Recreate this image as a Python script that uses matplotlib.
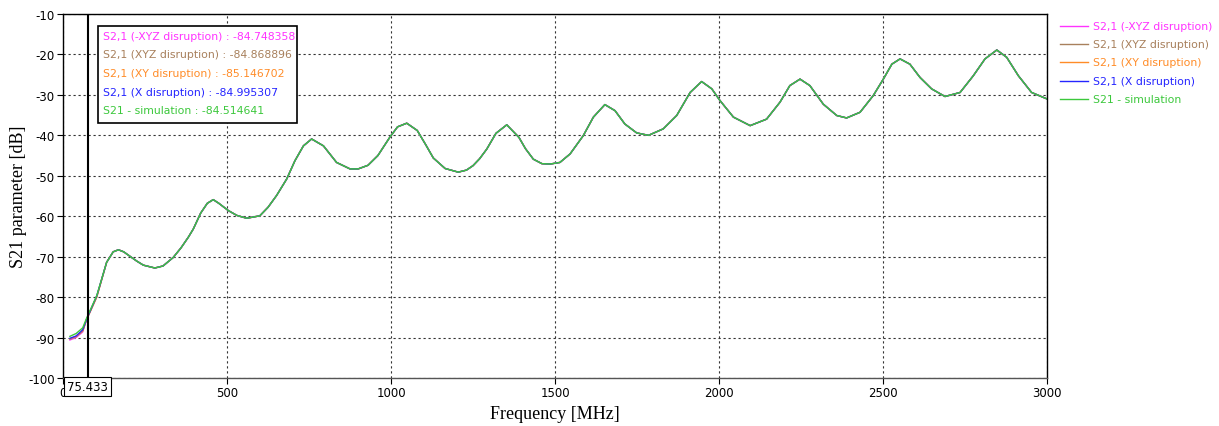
import matplotlib
matplotlib.use("Agg")
import matplotlib.pyplot as plt
from matplotlib.patches import Rectangle
from matplotlib.lines import Line2D

plt.rcParams["axes.unicode_minus"] = False

# frequency points [MHz]
freq = [21, 40, 60, 72, 103, 133, 153, 169, 185, 204, 225, 245, 280, 305, 336, 360,
        382, 397, 420, 440, 458, 475, 504, 530, 560, 600, 625, 651, 682, 707, 733,
        758, 794, 834, 875, 900, 930, 960, 997, 1020, 1048, 1080, 1105, 1129, 1165,
        1205, 1230, 1250, 1270, 1292, 1320, 1353, 1390, 1410, 1434, 1460, 1485, 1515,
        1546, 1586, 1617, 1652, 1683, 1713, 1749, 1785, 1830, 1871, 1912, 1947, 1978,
        2003, 2044, 2095, 2145, 2186, 2216, 2247, 2277, 2318, 2359, 2389, 2430, 2470,
        2501, 2527, 2552, 2582, 2613, 2648, 2689, 2735, 2775, 2811, 2847, 2877, 2913,
        2953, 3000]

# S21 simulation [dB]
s21_sim = [-89.7, -89.0, -87.6, -85.2, -79.6, -71.4, -68.8, -68.3, -68.8, -69.9,
           -71.1, -72.1, -72.8, -72.3, -70.2, -67.8, -65.2, -63.2, -59.2, -56.8,
           -55.9, -56.8, -58.6, -59.8, -60.5, -59.9, -57.8, -54.9, -50.8, -46.3,
           -42.6, -40.9, -42.6, -46.7, -48.3, -48.3, -47.4, -45.0, -40.4, -37.9,
           -37.0, -38.8, -42.2, -45.6, -48.2, -49.1, -48.6, -47.5, -45.8, -43.4,
           -39.5, -37.4, -40.5, -43.3, -45.9, -47.0, -47.1, -46.7, -44.6, -40.1,
           -35.5, -32.4, -33.9, -37.2, -39.4, -40.0, -38.4, -35.1, -29.4, -26.7,
           -28.5, -31.4, -35.5, -37.6, -36.0, -31.8, -27.7, -26.1, -27.7, -32.3,
           -35.1, -35.7, -34.3, -30.2, -26.1, -22.4, -21.1, -22.4, -25.7, -28.5,
           -30.4, -29.4, -25.3, -21.1, -18.9, -20.7, -25.3, -29.4, -31.0]

# measured curves only differ from the simulation in the first few points
head_xyz_neg = [-90.6, -90.0, -88.6, -85.4, -79.8]
head_xyz = [-90.4, -89.8, -88.4, -85.5, -79.9]
head_xy = [-90.3, -89.7, -88.3, -85.6, -80.0]
head_x = [-90.2, -89.6, -88.1, -85.5, -79.7]
n_head = len(head_x)

series = [
    ("S2,1 (-XYZ disruption)", head_xyz_neg + s21_sim[n_head:], "#ff33ff", -84.748358),
    ("S2,1 (XYZ disruption)", head_xyz + s21_sim[n_head:], "#a8805c", -84.868896),
    ("S2,1 (XY disruption)", head_xy + s21_sim[n_head:], "#ff8c28", -85.146702),
    ("S2,1 (X disruption)", head_x + s21_sim[n_head:], "#2525ff", -84.995307),
    ("S21 - simulation", s21_sim, "#3cc83c", -84.514641),
]
marker_freq = 75.433

fig = plt.figure(figsize=(12.19, 4.27), dpi=100)
ax = fig.add_axes([63 / 1219, 1 - 379 / 427, (1047 - 63) / 1219, (379 - 15) / 427])

for name, vals, col, _ in series:
    ax.plot(freq, vals, color=col, lw=1.0)

ax.axvline(marker_freq, color="black", lw=1.5, zorder=5)

ax.set_xlim(0, 3000)
ax.set_ylim(-100, -10)
ax.set_xticks(range(0, 3001, 500))
ax.set_yticks(range(-100, -9, 10))
ax.tick_params(labelsize=8.5, length=4, width=0.8, colors="black", pad=2)
ax.grid(True, color="#333333", lw=0.8, linestyle=(0, (2, 2.5)))
for sp in ax.spines.values():
    sp.set_linewidth(1.0)
ax.spines["bottom"].set_color("#555555")

ax.set_xlabel("Frequency [MHz]", family="Liberation Serif", fontsize=13, labelpad=4)
ax.set_ylabel("S21 parameter [dB]", family="Liberation Serif", fontsize=13, labelpad=1)

# marker value box below the axis
ax.text(marker_freq, -102.2, "75.433", ha="center", va="center", fontsize=8.5,
        transform=ax.transData, clip_on=False, zorder=10,
        bbox=dict(boxstyle="square,pad=0.25", fc="white", ec="black", lw=0.8))

# marker readout box inside the axes
bx0, by0 = (98 - 63) / 984, 1 - (124 - 15) / 364
bw, bh = (297 - 98) / 984, (124 - 27) / 364
ax.add_patch(Rectangle((bx0, by0), bw, bh, transform=ax.transAxes, fc="white",
                       ec="black", lw=1.2, zorder=8))
for i, (name, _, col, val) in enumerate(series):
    ax.text((103 - 63) / 984, 1 - (37 + i * 18.5 - 15) / 364, f"{name} : {val:.6f}",
            color=col, fontsize=7.8, va="center", ha="left", transform=ax.transAxes,
            zorder=9)

# legend outside on the right
for i, (name, _, col, _) in enumerate(series):
    y = 1 - (27 + i * 18.2) / 427
    fig.add_artist(Line2D([1060 / 1219, 1088 / 1219], [y, y], color=col, lw=1.0))
    fig.text(1093 / 1219, y, name, color=col, fontsize=7.8, va="center", ha="left")

fig.savefig("out.png", dpi=100)
